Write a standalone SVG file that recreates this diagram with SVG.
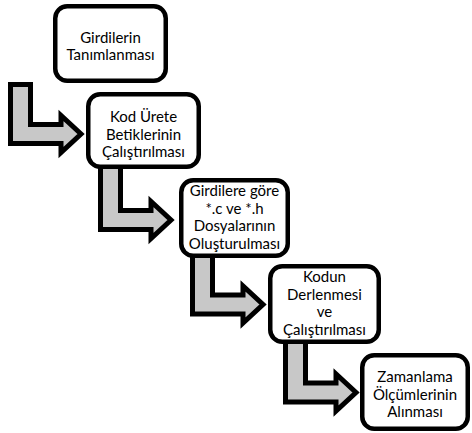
<svg xmlns="http://www.w3.org/2000/svg" width="472" height="433" viewBox="0 0 472 433">
<style>
.box{fill:#fff;stroke:#000;stroke-width:4.5}
.arr{fill:#c8c8c8;stroke:#000;stroke-width:5;stroke-linejoin:miter;stroke-miterlimit:10}
text{font-family:Lato,"Open Sans","Liberation Sans",sans-serif;font-size:15px;fill:#000;text-anchor:middle}
</style>
<rect width="472" height="433" fill="#fff"/>
<g id="connectors">
<path class="arr" d="M10.5,84.5 H30.5 V124.5 H61 V115.5 L81,134 L61,152.5 V143.5 H10.5 Z"/>
<path class="arr" d="M100.5,165 H120.5 V210.5 H151 V201.5 L171,220 L151,238.5 V229.5 H100.5 Z"/>
<path class="arr" d="M192.5,254 H212.5 V295 H243 V286 L263,304.5 L243,323 V314 H192.5 Z"/>
<path class="arr" d="M285.5,340 H305.5 V383 H336 V374 L356,392.5 L336,411 V402 H285.5 Z"/>
</g>
<g id="n1">
<rect class="box" x="55.25" y="6.25" width="110.5" height="74.5" rx="12"/>
<text x="110.5" y="42.5">Girdilerin</text>
<text x="110.5" y="60">Tanımlanması</text>
</g>
<g id="n2">
<rect class="box" x="88.25" y="94.25" width="110.5" height="72.5" rx="12"/>
<text x="143.5" y="122">Kod Ürete</text>
<text x="143.5" y="139.5">Betiklerinin</text>
<text x="143.5" y="157">Çalıştırılması</text>
</g>
<g id="n3">
<rect class="box" x="181.25" y="180.25" width="106.5" height="75.5" rx="12"/>
<text x="234.5" y="196">Girdilere göre</text>
<text x="234.5" y="213.5">*.c ve *.h</text>
<text x="234.5" y="231">Dosyalarının</text>
<text x="234.5" y="248.5">Oluşturulması</text>
</g>
<g id="n4">
<rect class="box" x="270.25" y="266.25" width="108.5" height="75.5" rx="12"/>
<text x="324.5" y="282">Kodun</text>
<text x="324.5" y="299.5">Derlenmesi</text>
<text x="324.5" y="317">ve</text>
<text x="324.5" y="334.5">Çalıştırılması</text>
</g>
<g id="n5">
<rect class="box" x="362.25" y="355.25" width="105.5" height="73.5" rx="12"/>
<text x="415" y="382">Zamanlama</text>
<text x="415" y="399.5">Ölçümlerinin</text>
<text x="415" y="417">Alınması</text>
</g>
</svg>
